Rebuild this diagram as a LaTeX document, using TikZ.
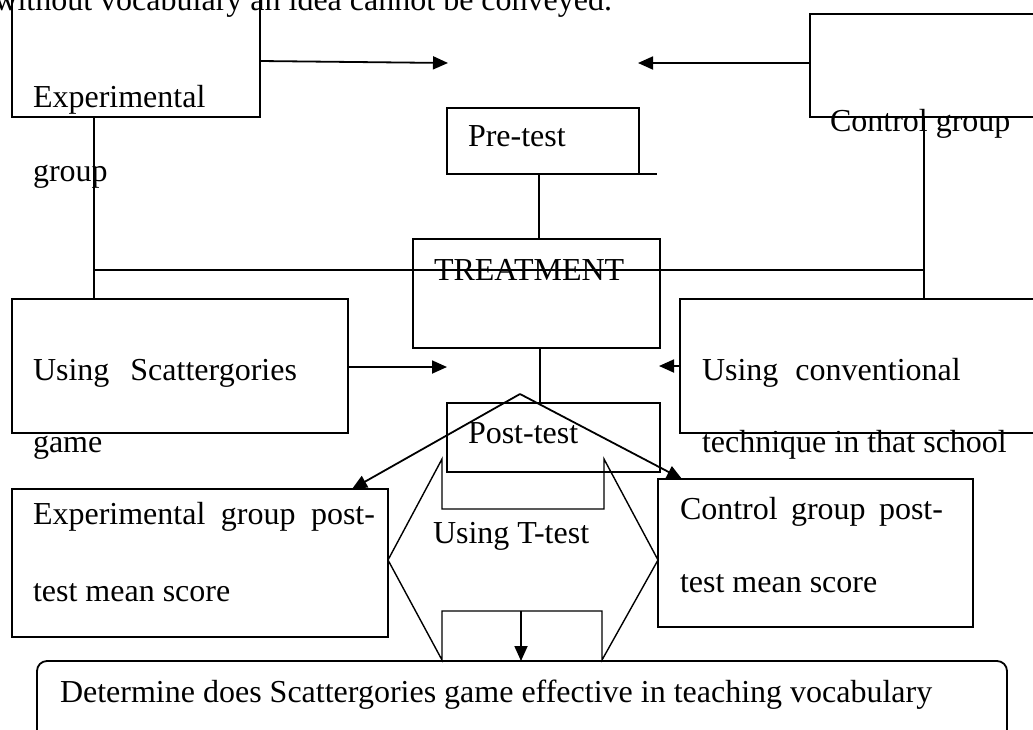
\documentclass[tikz,border=0pt]{standalone}
\usepackage{fontspec}
\setmainfont{Liberation Serif}
\usetikzlibrary{arrows.meta,calc}
\tikzset{
  box/.style={draw=black, line width=1.8pt, inner sep=0pt, outer sep=0pt, rectangle},
  rbox/.style={box, rounded corners=10pt},
  lbl/.style={anchor=base west, inner sep=0pt, outer sep=0pt, font=\fontsize{32pt}{38pt}\selectfont, text=black},
  conn/.style={draw=black, line width=1.8pt},
  thinconn/.style={draw=black, line width=1.3pt},
  arr/.style={conn, -{Triangle[length=15pt,width=13pt]}},
  hexa/.style={draw=black, line width=1.4pt, line join=miter}
}
\begin{document}
\begin{tikzpicture}[x=1pt,y=-1pt]
\useasboundingbox (0,0) rectangle (1033,729);
\clip (0,0) rectangle (1033,729);
% boxes
\node[box, minimum width=248pt, minimum height=157pt] (expg) at (136,38.5) {};
\node[box, minimum width=490pt, minimum height=103pt] (ctlg) at (1055,65.5) {};
\node[box, minimum width=192pt, minimum height=66pt] (pre) at (543,141) {};
\node[box, minimum width=247pt, minimum height=109pt] (treat) at (536.5,293.5) {};
\node[box, minimum width=336pt, minimum height=134pt] (scat) at (180,366) {};
\node[box, minimum width=620pt, minimum height=134pt] (conv) at (990,366) {};
\node[box, minimum width=213pt, minimum height=69pt] (post) at (553.5,437.5) {};
\node[box, minimum width=376pt, minimum height=148pt] (exppost) at (200,563) {};
\node[box, minimum width=315pt, minimum height=148pt] (ctlpost) at (815.5,553) {};
\node[rbox, minimum width=970pt, minimum height=99pt] (det) at (522,710.5) {};
% free ends
\coordinate (a1) at (448,63);
\coordinate (a2) at (638,63);
\coordinate (a3) at (447,367);
\coordinate (a4) at (659,366);
\coordinate (lv) at (94,270);
\coordinate (rv) at (924,270);
\coordinate (apex) at (520,394);
\coordinate (tn) at (521,611);
% connectors
\draw[arr] (expg.east |- 0,61) -- (a1);
\draw[arr] (ctlg.west |- a2) -- (a2);
\draw[conn] (pre.south east) -- ++(18,0);
\draw[conn] ($(pre.south)+(-4,0)$) -- ($(pre.south |- treat.north)+(-4,0)$);
\draw[conn] (expg.south -| lv) -- (scat.north -| lv);
\draw[thinconn] (lv) -- (rv);
\draw[conn] (ctlg.south -| rv) -- (conv.north -| rv);
\draw[conn] ($(treat.south)+(3.5,0)$) -- ($(treat.south |- post.north)+(3.5,0)$);
\draw[arr] (scat.east |- a3) -- (a3);
\draw[arr] (conv.west |- a4) -- (a4);
\draw[arr] (apex) -- ($(exppost.north east)+(-36,0)$);
\draw[arr] (apex) -- ($(ctlpost.north west)+(24,0)$);
% hexagon
\draw[hexa] (442,459) -- (442,509) -- (604,509) -- (604,459) -- (658,560) -- (602,660) -- (602,611) -- (442,611) -- (442,660) -- (388,560) -- cycle;
\draw[arr] (tn) -- (tn |- det.north);
% texts
\node[lbl, anchor=base east] (top) at (612,10) {without vocabulary an idea cannot be conveyed.};
\node[lbl] (t1) at (33,107) {Experimental};
\node[lbl] (t2) at (33,181) {group};
\node[lbl] (t3) at (830,131) {Control group};
\node[lbl] (t4) at (468,146) {Pre-test};
\node[lbl] (t5) at (434,280) {TREATMENT};
\node[lbl] (t6) at (33,380) {Using\hspace{21pt}Scattergories};
\node[lbl] (t7) at (33,452) {game};
\node[lbl] (t8) at (702,380) {Using\hspace{17pt}conventional};
\node[lbl] (t9) at (702,452) {technique in that school};
\node[lbl] (t10) at (468,443) {Post-test};
\node[lbl] (t11) at (433,543) {Using T-test};
\node[lbl] (t12) at (33,524) {\makebox[342pt][s]{Experimental\hfill group\hfill post-}};
\node[lbl] (t13) at (33,601) {test mean score};
\node[lbl] (t14) at (680,519) {\makebox[263pt][s]{Control\hfill group\hfill post-}};
\node[lbl] (t15) at (680,592) {test mean score};
\node[lbl] (t16) at (60,702) {Determine does Scattergories game effective in teaching vocabulary};
\end{tikzpicture}
\end{document}
